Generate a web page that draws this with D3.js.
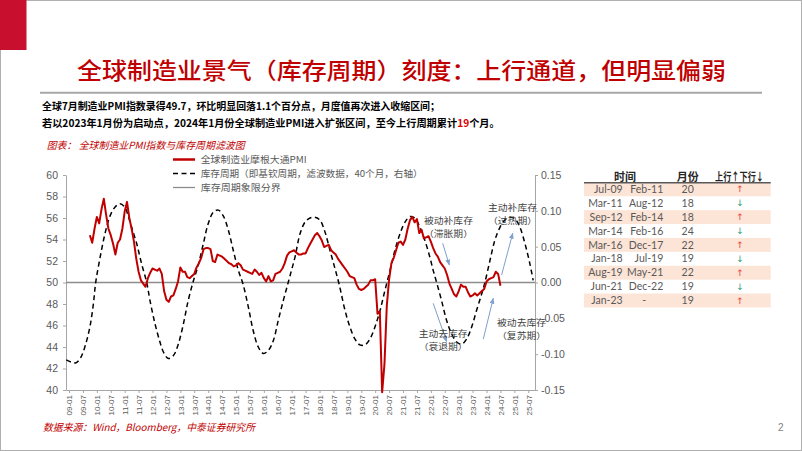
<!DOCTYPE html>
<html><head><meta charset="utf-8">
<script src="https://cdn.jsdelivr.net/npm/d3@7"></script>
<style>body{margin:0;background:#fff;} svg{display:block;}</style>
</head><body><svg id="c" width="802" height="451"></svg>
<script>
// ---------------- DATA ----------------
// month index: 0 = 2009-01
const pmiStartIndex = 9; // 2009-10
const pmiValues = [
  54.4, 53.7, 55.0,
  56.1, 55.5, 56.8, 57.8, 56.3, 55.0, 54.4, 53.6, 52.6, 53.7, 54.0, 55.0,
  56.6, 57.5, 56.0, 55.0, 53.8, 52.2, 51.0, 50.2, 49.9, 49.6, 50.4, 50.9,
  51.3, 51.2, 51.1, 51.3, 50.8, 49.2, 48.4, 48.2, 48.7, 48.8, 49.4, 50.1,
  51.4, 51.0, 51.0, 50.5, 50.4, 50.6, 50.8, 51.4, 51.8, 52.3, 53.1, 53.2,
  53.2, 53.1, 52.0, 51.9, 52.6, 52.5, 52.4, 52.2, 52.0, 51.8, 51.7, 51.5,
  51.6, 51.8, 51.6, 51.2, 51.1, 51.0, 50.9, 50.8, 51.2, 51.0, 50.7, 50.9,
  50.4, 50.1, 50.6, 50.1, 50.2, 50.8, 50.9, 51.0, 51.3, 51.8, 52.5, 52.8,
  52.9, 53.0, 52.8, 52.6, 52.6, 52.7, 52.7, 53.2, 53.6, 54.0, 54.4, 54.6,
  54.3, 53.9, 53.3, 53.4, 53.5, 53.0, 52.8, 52.6, 52.2, 51.9, 51.6, 51.3,
  51.0, 50.6, 50.5, 50.4, 49.8, 49.4, 49.3, 49.4, 49.6, 49.8, 50.2, 50.2,
  50.3, 47.1, 47.3, 39.8, 42.4, 47.8, 50.3, 51.8, 52.3, 53.0, 53.7, 53.8,
  53.5, 54.0, 55.0, 55.8, 56.1, 55.6, 55.9, 54.6, 54.9, 54.1, 54.2, 54.3,
  53.8, 53.2, 52.7, 52.4, 51.9, 51.6, 51.3, 50.7, 49.9, 49.4, 48.9, 48.7,
  49.2, 49.8, 49.6, 49.6, 49.1, 48.7, 48.8, 49.0, 48.8, 49.0, 49.2, 49.4,
  50.1, 50.3, 50.4, 50.5, 51.0, 50.8, 49.7
];
const cycleMonths = [-1.2, 1, 3, 5, 7, 9, 10.5, 11.5, 13.4, 15.5, 17.7, 19.8, 22, 24.1, 25.6, 27, 29.2, 31.3, 33.5,
  34.9, 37.1, 39.2, 40.7, 42.8, 45, 47.1, 49.3, 51.4, 53.6, 55.7, 57.9, 60, 62.2, 64.4, 66.5, 68.7, 70.8, 73, 75,
  77.3, 79.4, 81.6, 83.8, 85.9, 88.1, 90.2, 92.4, 94.5, 96, 97.4, 99.6, 101.7, 103.9, 106, 108.2, 110.3, 112.5, 114.7, 116.5,
  119, 121.1, 123.3, 125.4, 127.6, 129.7, 131.9, 134.1, 136.2, 138.4, 140.5, 142.7, 144.8, 147, 149.1, 151.3, 153.4, 155.6, 157, 158.5,
  160.6, 162.8, 165, 167.1, 169.3, 171.4, 173.6, 175.7, 177.9, 179.3, 181.5, 183.6, 185.8, 187.9, 190.1, 192.2, 194.4, 196.6, 198.7, 200.1];
const cycleValues = [-0.108, -0.111, -0.112, -0.105, -0.088, -0.062, -0.030, 0.000, 0.035, 0.068, 0.093, 0.105, 0.110, 0.105, 0.092, 0.077, 0.054, 0.026, 0.000,
  -0.025, -0.058, -0.083, -0.097, -0.106, -0.102, -0.086, -0.058, -0.025, 0.002, 0.024, 0.054, 0.082, 0.098, 0.101, 0.093, 0.073, 0.045, 0.017, -0.002,
  -0.034, -0.067, -0.090, -0.099, -0.095, -0.081, -0.053, -0.025, 0.000, 0.018, 0.035, 0.068, 0.084, 0.090, 0.091, 0.087, 0.071, 0.045, 0.019, -0.003,
  -0.039, -0.062, -0.079, -0.087, -0.087, -0.079, -0.062, -0.039, -0.011, 0.017, 0.045, 0.068, 0.084, 0.092, 0.090, 0.077, 0.059, 0.035, 0.017, 0.000,
  -0.025, -0.053, -0.072, -0.083, -0.086, -0.079, -0.062, -0.039, -0.016, 0.000, 0.031, 0.059, 0.077, 0.087, 0.091, 0.089, 0.077, 0.054, 0.026, 0.003];
const xTickLabels = ["09-01","09-07","10-01","10-07","11-01","11-07","12-01","12-07","13-01","13-07","14-01","14-07",
  "15-01","15-07","16-01","16-07","17-01","17-07","18-01","18-07","19-01","19-07","20-01","20-07","21-01","21-07",
  "22-01","22-07","23-01","23-07","24-01","24-07","25-01","25-07"];
const leftTicks = [40, 42, 44, 46, 48, 50, 52, 54, 56, 58, 60];
const rightTicks = [-0.15, -0.10, -0.05, 0.00, 0.05, 0.10, 0.15];
const legendLabels = ["全球制造业摩根大通PMI", "库存周期（即基钦周期，滤波数据，40个月，右轴）", "库存周期象限分界"];
const tableStart = ["Jul-09","Mar-11","Sep-12","Mar-14","Mar-16","Jan-18","Aug-19","Jun-21","Jan-23"];
const tableEnd = ["Feb-11","Aug-12","Feb-14","Feb-16","Dec-17","Jul-19","May-21","Dec-22","-"];
const tableMonths = [20, 18, 18, 24, 22, 19, 22, 19, 19];
const tableDir = ["up","down","up","down","up","down","up","down","up"];
const annoNames = [["被动补库存","（滞胀期）"],["主动补库存","（过热期）"],["主动去库存","（衰退期）"],["被动去库存","（复苏期）"]];
const annoTextAt = [[163.6, 55.72],[191.2, 56.96],[161.3, 45.18],[195.1, 46.26]];
const annoArrowFrom = [[161.1, 53.65],[186.5, 50.70],[157.0, 48.07],[178.6, 44.74]];
const annoArrowTo = [[163.95, 51.63],[191.3, 54.58],[162.8, 44.49],[182.9, 48.53]];

// ---------------- DRAW ----------------
const svg = d3.select("#c");
const CJK = "'Noto Sans CJK SC', sans-serif";
const NUM = "'Liberation Sans', Arial, sans-serif";
const GRAY = "#595959";

svg.append("rect").attr("x",0.5).attr("y",0.5).attr("width",801).attr("height",450).attr("fill","#fff").attr("stroke","#b0b0b0");
svg.append("rect").attr("x",0).attr("y",0).attr("width",26.5).attr("height",50).attr("fill","#c8102e");

svg.append("text").attr("x",77).attr("y",79).attr("textLength",649).attr("lengthAdjust","spacingAndGlyphs")
  .attr("font-family",CJK).attr("font-size",22.5).attr("font-weight",500).attr("fill","#c00000")
  .text("全球制造业景气（库存周期）刻度：上行通道，但明显偏弱");
svg.append("line").attr("x1",40).attr("x2",762).attr("y1",92.7).attr("y2",92.7).attr("stroke","#a6a6a6").attr("stroke-width",2);

svg.append("text").attr("x",42).attr("y",109.5).attr("textLength",398).attr("lengthAdjust","spacingAndGlyphs")
  .attr("font-family",CJK).attr("font-size",10.5).attr("font-weight",700).attr("fill","#000")
  .text("全球7月制造业PMI指数录得49.7，环比明显回落1.1个百分点，月度值再次进入收缩区间；");
const t2 = svg.append("text").attr("x",42).attr("y",126.5)
  .attr("font-family",CJK).attr("font-size",10.2).attr("font-weight",700).attr("fill","#000");
t2.append("tspan").text("若以2023年1月份为启动点，2024年1月份全球制造业PMI进入扩张区间，至今上行周期累计");
t2.append("tspan").attr("fill","#e00000").text("19");
t2.append("tspan").text("个月。");

svg.append("text").attr("x",46.7).attr("y",148.5).attr("textLength",198).attr("lengthAdjust","spacingAndGlyphs")
  .attr("font-family",CJK).attr("font-size",10).attr("font-style","italic").attr("fill","#c00000")
  .text("图表： 全球制造业PMI指数与库存周期滤波图");

// scales
const x = d3.scaleLinear().domain([-1.3, 200.9]).range([66, 535]);
const yL = d3.scaleLinear().domain([40, 60]).range([390, 175]);
const yR = d3.scaleLinear().domain([-0.15, 0.15]).range([390, 175]);

// axes
const axStyle = g => {
  g.selectAll("path,line").attr("stroke","#a6a6a6");
  g.selectAll("text").attr("fill",GRAY).attr("font-family",NUM);
};
svg.append("g").attr("transform","translate(66,0)")
  .call(d3.axisLeft(yL).tickValues(leftTicks).tickSize(3).tickSizeOuter(0).tickPadding(5))
  .call(axStyle).call(g=>g.selectAll("text").attr("font-size",10.5));
svg.append("g").attr("transform","translate(535,0)")
  .call(d3.axisRight(yR).tickValues(rightTicks).tickSize(3).tickSizeOuter(0).tickPadding(3).tickFormat(d=>d.toFixed(2)))
  .call(axStyle).call(g=>g.selectAll("text").attr("font-size",10.5));
const gx = svg.append("g").attr("transform","translate(0,390)")
  .call(d3.axisBottom(x).tickValues(xTickLabels.map((_,k)=>6*k)).tickFormat((d,k)=>xTickLabels[k]).tickSize(3).tickSizeOuter(0))
  .call(axStyle);
gx.selectAll("text").attr("font-size",8).attr("transform","rotate(-90)").attr("text-anchor","end")
  .attr("x",-5).attr("y",0).attr("dy","0.35em");

// zero / quadrant line
svg.append("line").attr("x1",66).attr("x2",535).attr("y1",yR(0)).attr("y2",yR(0))
  .attr("stroke","#8c8c8c").attr("stroke-width",1.3);

// inventory cycle (dashed)
const cyc = cycleMonths.map((m,k)=>({i:m, v:cycleValues[k]}));
svg.append("path").datum(cyc)
  .attr("d", d3.line().x(d=>x(d.i)).y(d=>yR(d.v)).curve(d3.curveCatmullRom))
  .attr("fill","none").attr("stroke","#000").attr("stroke-width",1.5).attr("stroke-dasharray","5,3.5");

// PMI line
const pmi = pmiValues.map((v,k)=>({i:pmiStartIndex+k, v}));
svg.append("path").datum(pmi)
  .attr("d", d3.line().x(d=>x(d.i)).y(d=>yL(d.v)))
  .attr("fill","none").attr("stroke","#c00000").attr("stroke-width",2).attr("stroke-linejoin","round");

// legend
const lg = svg.append("g");
const legY = [159.5, 173.5, 187.5];
lg.append("line").attr("x1",173).attr("x2",195).attr("y1",legY[0]).attr("y2",legY[0]).attr("stroke","#c00000").attr("stroke-width",2.5);
lg.append("line").attr("x1",173).attr("x2",195).attr("y1",legY[1]).attr("y2",legY[1]).attr("stroke","#000").attr("stroke-width",1.5).attr("stroke-dasharray","5,3.5");
lg.append("line").attr("x1",173).attr("x2",195).attr("y1",legY[2]).attr("y2",legY[2]).attr("stroke","#8c8c8c").attr("stroke-width",1.3);
const legW = [106, 222, 80];
legendLabels.forEach((t,k)=>{
  lg.append("text").attr("x",200.7).attr("y",legY[k]).attr("dy","0.35em")
    .attr("textLength",legW[k]).attr("lengthAdjust","spacingAndGlyphs")
    .attr("font-family",CJK).attr("font-size",9.5).attr("fill",GRAY).text(t);
});

// annotations
const defs = svg.append("defs");
defs.append("marker").attr("id","ah").attr("viewBox","0 0 10 10").attr("refX",9).attr("refY",5)
  .attr("markerWidth",6).attr("markerHeight",6).attr("orient","auto")
  .append("path").attr("d","M0,1 L10,5 L0,9 z").attr("fill","#7f9fd0");
annoNames.forEach((lines,k)=>{
  svg.append("line")
    .attr("x1",x(annoArrowFrom[k][0])).attr("y1",yL(annoArrowFrom[k][1]))
    .attr("x2",x(annoArrowTo[k][0])).attr("y2",yL(annoArrowTo[k][1]))
    .attr("stroke","#7f9fd0").attr("stroke-width",1).attr("marker-end","url(#ah)");
  lines.forEach((t,j)=>{
    svg.append("text").attr("x",x(annoTextAt[k][0])).attr("y",yL(annoTextAt[k][1])+j*12.8).attr("dy","0.35em")
      .attr("text-anchor","middle").attr("font-family",CJK).attr("font-size",8.8).attr("fill","#404040")
      .attr("textLength",49).attr("lengthAdjust","spacingAndGlyphs").text(t);
  });
});

// source & page number
svg.append("text").attr("x",43).attr("y",430.5).attr("textLength",212).attr("lengthAdjust","spacingAndGlyphs")
  .attr("font-family",CJK).attr("font-size",10).attr("font-style","italic").attr("fill","#c00000")
  .text("数据来源：Wind，Bloomberg，中泰证券研究所");
svg.append("text").attr("x",778).attr("y",431).attr("font-family",NUM).attr("font-size",10).attr("fill","#7f7f7f").text("2");

// table
const tb = svg.append("g");
const rowY0 = 189.3, rowH = 13.9;
tb.append("text").attr("x",625).attr("y",177).attr("dy","0.35em").attr("text-anchor","middle")
  .attr("font-family",CJK).attr("font-size",11).attr("font-weight",700).attr("fill","#262626").text("时间");
tb.append("text").attr("x",687.7).attr("y",177).attr("dy","0.35em").attr("text-anchor","middle")
  .attr("font-family",CJK).attr("font-size",11).attr("font-weight",700).attr("fill","#262626").text("月份");
tb.append("text").attr("x",739.5).attr("y",177).attr("dy","0.35em").attr("text-anchor","middle")
  .attr("textLength",49).attr("lengthAdjust","spacingAndGlyphs")
  .attr("font-family",CJK).attr("font-size",11).attr("font-weight",700).attr("fill","#262626").text("上行↑下行↓");
tableStart.forEach((s,k)=>{
  const cy = rowY0 + k*rowH;
  if (k % 2 === 0) tb.append("rect").attr("x",584).attr("y",cy-rowH/2).attr("width",186.7).attr("height",rowH).attr("fill","#fce4d6");
  const txt = (xx, anchor, t) => tb.append("text").attr("x",xx).attr("y",cy).attr("dy","0.35em").attr("text-anchor",anchor)
    .attr("font-family","Lato, sans-serif").attr("font-size",10.5).attr("fill",GRAY).text(t);
  txt(622.7, "end", s);
  if (tableEnd[k] === "-") txt(644.3, "middle", "-"); else txt(663.3, "end", tableEnd[k]);
  txt(687.7, "middle", tableMonths[k]);
  tb.append("text").attr("x",740).attr("y",cy).attr("dy","0.35em").attr("text-anchor","middle")
    .attr("font-family","'DejaVu Sans', sans-serif").attr("font-size",9)
    .attr("fill", tableDir[k]==="up" ? "#e8453c" : "#2fa37a").text(tableDir[k]==="up" ? "↑" : "↓");
});
tb.append("line").attr("x1",584).attr("x2",770.7).attr("y1",182.7).attr("y2",182.7).attr("stroke","#595959").attr("stroke-width",1.5);
</script></body></html>
